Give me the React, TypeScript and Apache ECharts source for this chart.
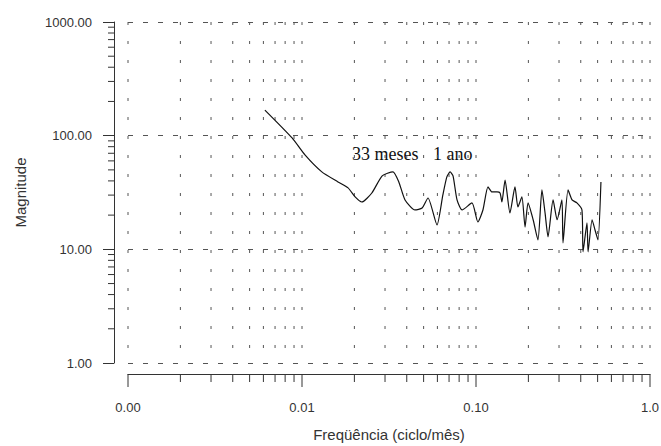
import React, { useEffect, useRef } from "react";
import * as echarts from "echarts";

const freq = [
  0.00612, 0.00877, 0.0104, 0.013, 0.0161, 0.0184, 0.0202, 0.0221, 0.0252, 0.0289,
  0.0333, 0.036, 0.0391, 0.0446, 0.049, 0.053, 0.0597, 0.0645, 0.068, 0.071, 0.0738,
  0.0778, 0.0832, 0.0948, 0.1025, 0.1096, 0.1172, 0.1236, 0.1321, 0.1375, 0.1409,
  0.1469, 0.1567, 0.1675, 0.1741, 0.1836, 0.1914, 0.1991, 0.213, 0.227, 0.2393,
  0.2494, 0.2594, 0.2773, 0.2924, 0.3118, 0.3162, 0.3381, 0.3565, 0.3802, 0.4064,
  0.4121, 0.4345, 0.4406, 0.4647, 0.4831, 0.5024, 0.5224,
];
const magnitude = [
  168, 95.5, 67.7, 48.0, 39.2, 34.7, 28.9, 26.1, 31.3, 44.3,
  48.0, 39.2, 27.2, 22.2, 23.1, 28.3, 16.4, 30.1, 43.4, 48.0, 44.3,
  27.2, 22.2, 25.6, 17.4, 22.2, 35.4, 32.0, 32.0, 31.3, 26.1,
  40.7, 20.9, 35.4, 23.6, 28.9, 15.7, 25.6, 18.2, 12.1, 33.3,
  20.9, 12.9, 27.2, 18.2, 27.2, 11.4, 33.3, 27.2, 25.6, 22.2,
  9.5, 17.1, 9.5, 18.2, 14.8, 12.1, 39.2,
];

const xMajorTicks = [0.001, 0.01, 0.1, 1];
const xTickLabels = ["0.00", "0.01", "0.10", "1.0"];
const xMinorTicks = [
  0.002, 0.003, 0.004, 0.005, 0.006, 0.007, 0.008, 0.009,
  0.02, 0.03, 0.04, 0.05, 0.06, 0.07, 0.08, 0.09,
  0.2, 0.3, 0.4, 0.5, 0.6, 0.7, 0.8, 0.9,
];
const yMinorTicks = [
  2, 3, 4, 5, 6, 7, 8, 9,
  20, 30, 40, 50, 60, 70, 80, 90,
  200, 300, 400, 500, 600, 700, 800, 900,
];

const xAxisName = "Freqüência (ciclo/mês)";
const yAxisName = "Magnitude";
const annotations = ["33 meses", "1 ano"];

export default function App() {
  const ref = useRef<HTMLDivElement>(null);
  useEffect(() => {
    if (!ref.current) return;
    const chart = echarts.init(ref.current, null, { renderer: "svg" });
    const X_OFF = 11;
    const Y_OFF = 14;
    const gridColor = "#555";
    const axisColor = "#333";
    const vData = [
      ...xMajorTicks.map((v) => [v, 1, 1]),
      ...xMinorTicks.map((v) => [v, 1, 0]),
    ];
    const yTickData = yMinorTicks.map((v) => [0.001, v]);
    const xLabel = (v: number) => {
      const i = xMajorTicks.findIndex((t) => Math.abs(Math.log10(t) - Math.log10(v)) < 1e-6);
      return i >= 0 ? xTickLabels[i] : v.toFixed(2);
    };
    chart.setOption({
      animation: false,
      backgroundColor: "#fff",
      grid: { left: 128, right: 11, top: 22, bottom: 83, containLabel: false, outerBoundsMode: "none" },
      xAxis: {
        type: "log",
        logBase: 10,
        min: 0.001,
        max: 1,
        offset: X_OFF,
        name: xAxisName,
        nameLocation: "middle",
        nameGap: 53,
        nameTextStyle: { fontSize: 15, color: "#333", fontFamily: "Liberation Sans, Arial" },
        axisLine: { lineStyle: { color: axisColor, width: 1 } },
        axisTick: { show: false },
        splitLine: { show: false },
        axisLabel: {
          margin: 27,
          fontSize: 13,
          color: "#333",
          fontFamily: "Liberation Sans, Arial",
          hideOverlap: false,
          formatter: xLabel,
        },
      },
      yAxis: {
        type: "log",
        logBase: 10,
        min: 1,
        max: 1000,
        offset: Y_OFF,
        name: yAxisName,
        nameLocation: "middle",
        nameGap: 86,
        nameTextStyle: { fontSize: 15, color: "#333", fontFamily: "Liberation Sans, Arial" },
        axisLine: { show: true, lineStyle: { color: axisColor, width: 1 } },
        axisTick: { show: true, length: 11, lineStyle: { color: axisColor } },
        splitLine: {
          show: true,
          lineStyle: { color: gridColor, type: [5, 10], width: 1 },
        },
        axisLabel: {
          margin: 22,
          fontSize: 13,
          color: "#333",
          fontFamily: "Liberation Sans, Arial",
          formatter: (v: number) => v.toFixed(2),
        },
      },
      series: [
        {
          type: "custom",
          clip: false,
          silent: true,
          data: vData,
          encode: { x: 0, y: 1 },
          renderItem: (params: any, api: any) => {
            const x = api.value(0);
            const major = api.value(2) === 1;
            const top = api.coord([x, 1000]);
            const bot = api.coord([x, 1]);
            const ay = bot[1] + X_OFF;
            return {
              type: "group",
              children: [
                {
                  type: "line",
                  shape: { x1: top[0], y1: top[1], x2: bot[0], y2: bot[1] },
                  style: { stroke: gridColor, lineWidth: 1, lineDash: [3, 16] },
                },
                {
                  type: "line",
                  shape: { x1: top[0], y1: ay, x2: top[0], y2: ay + (major ? 13 : 8) },
                  style: { stroke: axisColor, lineWidth: 1 },
                },
              ],
            };
          },
          z: 1,
        },
        {
          type: "custom",
          clip: false,
          silent: true,
          data: yTickData,
          encode: { x: 0, y: 1 },
          renderItem: (params: any, api: any) => {
            const p = api.coord([api.value(0), api.value(1)]);
            const ax = p[0] - Y_OFF;
            return {
              type: "line",
              shape: { x1: ax - 6, y1: p[1], x2: ax, y2: p[1] },
              style: { stroke: axisColor, lineWidth: 1 },
            };
          },
          z: 1,
        },
        {
          type: "line",
          data: freq.map((f, i) => [f, magnitude[i]]),
          showSymbol: false,
          smooth: 0.2,
          lineStyle: { color: "#111", width: 1.2 },
          z: 5,
        },
      ],
      graphic: [
        {
          type: "text",
          left: 352,
          top: 145,
          style: {
            text: annotations[0],
            font: "18px 'Liberation Serif', 'Times New Roman', serif",
            fill: "#111",
          },
        },
        {
          type: "text",
          left: 433,
          top: 145,
          style: {
            text: annotations[1],
            font: "18px 'Liberation Serif', 'Times New Roman', serif",
            fill: "#111",
          },
        },
      ],
    });
    return () => chart.dispose();
  }, []);
  return (
    <div
      ref={ref}
      style={{ position: "fixed", left: 0, top: 0, width: 661, height: 446, background: "#fff" }}
    />
  );
}
